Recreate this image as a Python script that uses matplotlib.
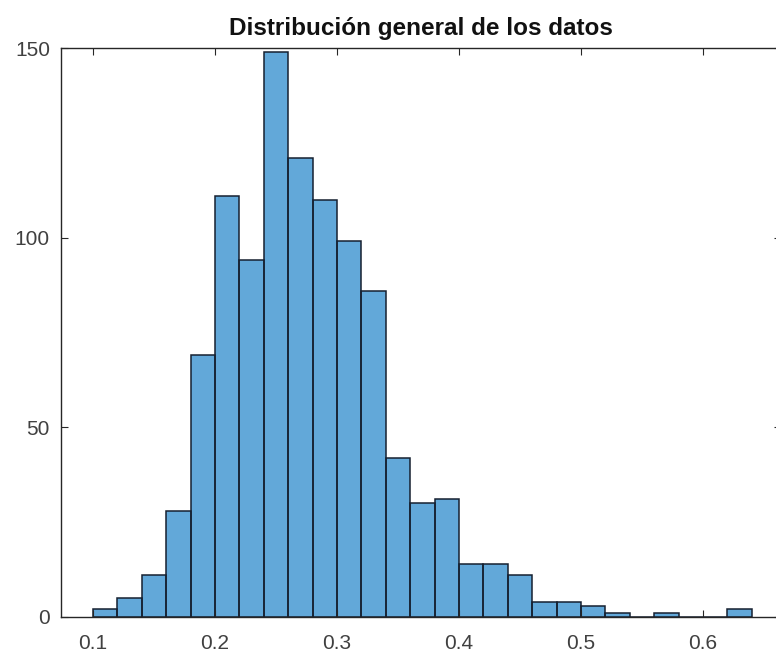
import numpy as np
import matplotlib.pyplot as plt

# histogram bins (width 0.02) and counts per bin
bin_edges = np.round(np.arange(0.10, 0.6401, 0.02), 2)
counts = [2, 5, 11, 28, 69, 111, 94, 149, 121, 110, 99, 86, 42,
          30, 31, 14, 14, 11, 4, 4, 3, 1, 0, 1, 0, 0, 2]
x_ticks = [0.1, 0.2, 0.3, 0.4, 0.5, 0.6]
y_ticks = [0, 50, 100, 150]

plt.rcParams['font.family'] = ['Liberation Sans', 'DejaVu Sans']

fig = plt.figure(figsize=(7.76, 6.54), dpi=100)
ax = fig.add_axes([61 / 776, 37 / 654, 720 / 776, 569 / 654])

ax.stairs(counts, bin_edges, fill=True, facecolor='#62a8d9',
          edgecolor='none')
ax.bar(bin_edges[:-1], counts, width=np.diff(bin_edges), align='edge',
       facecolor='none', edgecolor='#162030', linewidth=1.1)

ax.set_xlim(0.0738, 0.664)
ax.set_ylim(0, 150)
ax.set_xticks(x_ticks)
ax.set_xticklabels([f'{t:g}' for t in x_ticks])
ax.set_yticks(y_ticks)

for side in ['left', 'top', 'bottom', 'right']:
    ax.spines[side].set_color('#262626')
    ax.spines[side].set_linewidth(1.0)

ax.tick_params(axis='x', direction='in', length=5, top=True, pad=12,
               labelsize=15, labelcolor='#404040', color='#262626')
ax.tick_params(axis='y', direction='in', length=5, right=True, pad=8,
               labelsize=15, labelcolor='#404040', color='#262626')

ax.set_title('Distribución general de los datos', fontsize=17.5,
             fontweight='bold', color='#111111', pad=9)

fig.savefig('out.png', dpi=100)
